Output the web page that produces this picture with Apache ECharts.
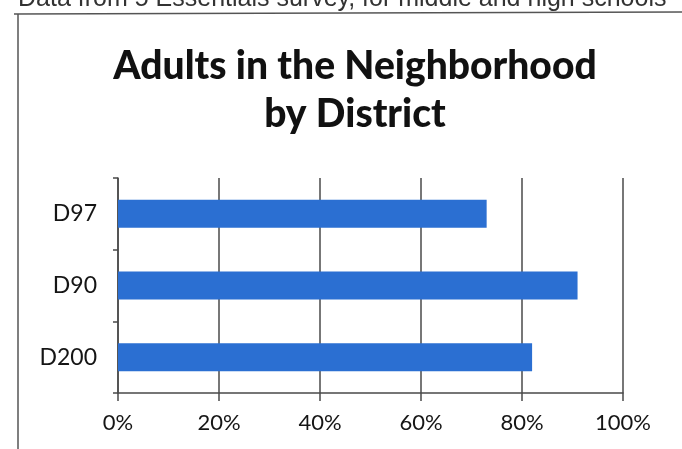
<!DOCTYPE html>
<html>
<head>
<meta charset="utf-8">
<script src="https://cdn.jsdelivr.net/npm/echarts@6/dist/echarts.min.js"></script>
<style>
  html, body { margin: 0; padding: 0; background: #fff; }
  #chart { width: 682px; height: 449px; }
</style>
</head>
<body>
<div id="chart"></div>
<script>
// Districts, top to bottom
const districts = ['D97', 'D90', 'D200'];
// Share of adults in the neighborhood (%)
const shares = [73, 91, 82];
const xTicks = [0, 20, 40, 60, 80, 100];
const titleLines = ['Adults in the Neighborhood', 'by District'];
const pageNote = 'Data from 5 Essentials survey, for middle and high schools';

const chart = echarts.init(document.getElementById('chart'), null, { renderer: 'canvas' });

const AXIS_COLOR = '#4a4a4a';

chart.setOption({
  backgroundColor: '#fff',
  animation: false,
  title: {
    text: titleLines.join('\n'),
    left: 350,
    textAlign: 'center',
    top: 37,
    textStyle: {
      fontFamily: 'Lato',
      fontWeight: 900,
      fontSize: 39,
      lineHeight: 48,
      color: '#111',
    },
  },
  graphic: [
    // cut-off line of text above the chart box
    {
      type: 'text',
      left: 18, top: -13,
      style: { text: pageNote, fontFamily: 'Liberation Sans', fontSize: 25, fill: '#333' },
    },
    // chart box frame
    { type: 'line', shape: { x1: 14, y1: 14, x2: 682, y2: 12 }, style: { stroke: '#555', lineWidth: 1.5 } },
    { type: 'line', shape: { x1: 18, y1: 14, x2: 18, y2: 449 }, style: { stroke: '#555', lineWidth: 1.5 } },
  ],
  grid: { left: 118, right: 59, top: 178, bottom: 56, containLabel: false },
  xAxis: {
    type: 'value',
    min: 0,
    max: 100,
    interval: 20,
    axisLine: { show: true, lineStyle: { color: AXIS_COLOR, width: 1.5 } },
    axisTick: { show: true, length: 8, lineStyle: { color: AXIS_COLOR, width: 1.5 } },
    splitLine: { show: true, lineStyle: { color: AXIS_COLOR, width: 1.5 } },
    axisLabel: {
      color: '#151515',
      fontFamily: 'Lato',
      fontSize: 22,
      margin: 19,
      formatter: v => (xTicks.includes(v) ? v + '%' : ''),
    },
  },
  yAxis: {
    type: 'category',
    data: districts,
    inverse: true,
    axisLine: { show: true, lineStyle: { color: AXIS_COLOR, width: 1.5 } },
    axisTick: { show: true, length: 5, lineStyle: { color: AXIS_COLOR, width: 1.5 } },
    splitLine: { show: false },
    axisLabel: { color: '#151515', fontFamily: 'Lato', fontSize: 23, margin: 21 },
  },
  series: [{
    type: 'bar',
    data: shares,
    barWidth: '39%',
    itemStyle: { color: '#2b6fd2' },
    emphasis: { disabled: true },
  }],
});
</script>
</body>
</html>
